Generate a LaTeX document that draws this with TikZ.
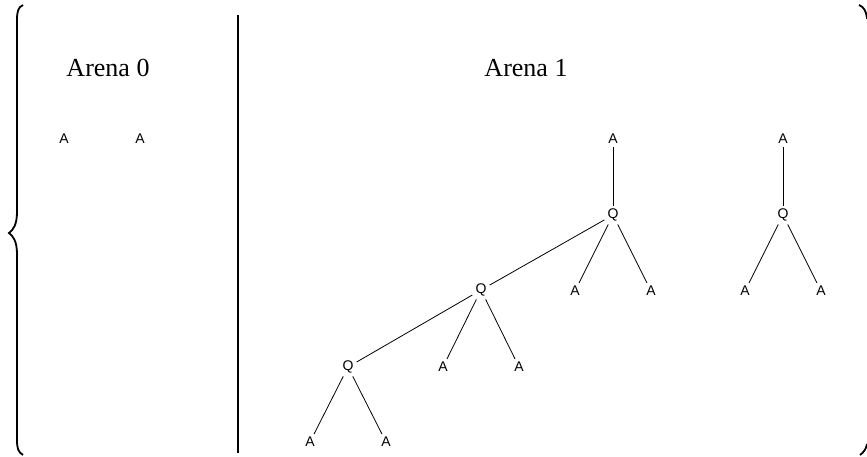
\documentclass[tikz,border=0pt]{standalone}
\usepackage{fontspec}
\setmainfont{Liberation Serif}
\newfontfamily\lsans{Liberation Sans}
\begin{document}
\begin{tikzpicture}[x=1pt,y=-1pt,
  lbl/.style={font=\lsans\fontsize{14}{16}\selectfont, inner sep=3pt},
  ttl/.style={font=\fontsize{26}{30}\selectfont, inner sep=0pt},
  edge/.style={line width=0.8pt},
  bar/.style={line width=1.8pt}]
\useasboundingbox (0,0) rectangle (867,456);
\clip (0,0) rectangle (867,456);
% left brace
\draw[bar] (23,5) .. controls (18,7) and (17,12) .. (17,20) -- (17,212)
  .. controls (17,225) and (13,230) .. (9,233)
  .. controls (13,236) and (17,241) .. (17,254) -- (17,440)
  .. controls (17,448) and (18,452) .. (23,455);
% right brace (mostly outside)
\draw[bar] (859,5) .. controls (864,7) and (866,11) .. (867,18) -- (868,18);
\draw[bar] (867,444) .. controls (866,449) and (864,452) .. (860,455);
% separator
\draw[bar] (238,15) -- (238,453);
% titles
\node[ttl] (t0) at (108,68) {Arena 0};
\node[ttl] (t1) at (526,68) {Arena 1};
% arena 0
\node[lbl] (a01) at (64,139) {A};
\node[lbl] (a02) at (140,139) {A};
% arena 1 tree 1
\node[lbl] (r1) at (613,139) {A};
\node[lbl] (q1) at (613,215) {Q};
\node[lbl] (q2) at (481,290) {Q};
\node[lbl] (a11) at (575,291) {A};
\node[lbl] (a12) at (651,291) {A};
\node[lbl] (q3) at (348,367) {Q};
\node[lbl] (a21) at (443,367) {A};
\node[lbl] (a22) at (519,367) {A};
\node[lbl] (a31) at (310,442) {A};
\node[lbl] (a32) at (386,442) {A};
% tree 2
\node[lbl] (r2) at (783,139) {A};
\node[lbl] (q4) at (783,215) {Q};
\node[lbl] (a41) at (745,291) {A};
\node[lbl] (a42) at (821,291) {A};
\draw[edge] (r1) -- (q1);
\draw[edge] (q1) -- (q2);
\draw[edge] (q1) -- (a11);
\draw[edge] (q1) -- (a12);
\draw[edge] (q2) -- (q3);
\draw[edge] (q2) -- (a21);
\draw[edge] (q2) -- (a22);
\draw[edge] (q3) -- (a31);
\draw[edge] (q3) -- (a32);
\draw[edge] (r2) -- (q4);
\draw[edge] (q4) -- (a41);
\draw[edge] (q4) -- (a42);
\end{tikzpicture}
\end{document}
